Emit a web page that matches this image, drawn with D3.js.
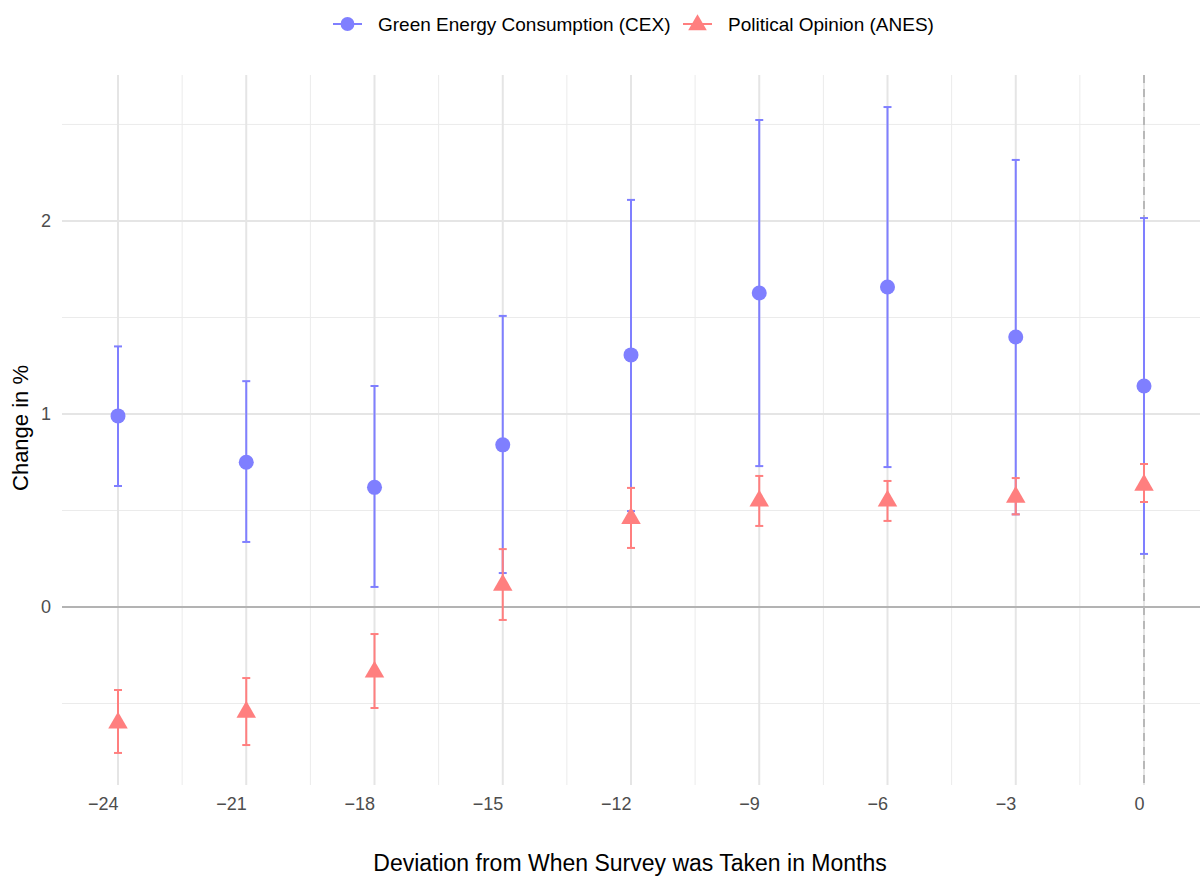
<!DOCTYPE html>
<html>
<head>
<meta charset="utf-8">
<script src="https://cdn.jsdelivr.net/npm/d3@7"></script>
<style>
body { margin:0; background:#fff; }
svg text { font-family: "Liberation Sans", Arial, sans-serif; }
</style>
</head>
<body>
<svg id="chart" width="1201" height="880"></svg>
<script>
const months = [-24, -21, -18, -15, -12, -9, -6, -3, 0];
const xTicks = [-24, -21, -18, -15, -12, -9, -6, -3, 0];
const yTicks = [0, 1, 2];

const cexEst = [0.99, 0.75, 0.62, 0.84, 1.306, 1.627, 1.658, 1.399, 1.145];
const cexLow = [0.627, 0.337, 0.104, 0.176, 0.497, 0.73, 0.725, 0.48, 0.275];
const cexHigh = [1.35, 1.17, 1.145, 1.508, 2.109, 2.523, 2.59, 2.316, 2.015];

const anesEst = [-0.59, -0.534, -0.326, 0.124, 0.47, 0.56, 0.56, 0.58, 0.642];
const anesLow = [-0.756, -0.715, -0.523, -0.067, 0.306, 0.42, 0.446, 0.48, 0.544];
const anesHigh = [-0.43, -0.368, -0.14, 0.30, 0.617, 0.679, 0.653, 0.668, 0.741];

const seriesNames = ["Green Energy Consumption (CEX)", "Political Opinion (ANES)"];
const colors = ["#7f7fff", "#ff7f7f"];

const svg = d3.select("#chart");
const pL = 62, pR = 1200, pT = 75, pB = 785;

const x = d3.scaleLinear().domain([-25.31, 1.31]).range([pL, pR]);
const y = d3.scaleLinear().domain([-0.922, 2.756]).range([pB, pT]);

// grid
const g = svg.append("g");
const minorX = d3.range(-25.5, 1.6, 1.5).filter(v => !xTicks.includes(v) && v > -25.31 && v < 1.31);
const minorY = [-0.5, 0.5, 1.5, 2.5];
g.selectAll(".mx").data(minorX).enter().append("line")
  .attr("x1", d => x(d)).attr("x2", d => x(d)).attr("y1", pT).attr("y2", pB)
  .attr("stroke", "#ebebeb").attr("stroke-width", 1);
g.selectAll(".my").data(minorY).enter().append("line")
  .attr("y1", d => y(d)).attr("y2", d => y(d)).attr("x1", pL).attr("x2", pR)
  .attr("stroke", "#ebebeb").attr("stroke-width", 1);
g.selectAll(".Mx").data(xTicks).enter().append("line")
  .attr("x1", d => x(d)).attr("x2", d => x(d)).attr("y1", pT).attr("y2", pB)
  .attr("stroke", "#e5e5e5").attr("stroke-width", 2);
g.selectAll(".My").data(yTicks).enter().append("line")
  .attr("y1", d => y(d)).attr("y2", d => y(d)).attr("x1", pL).attr("x2", pR)
  .attr("stroke", "#e5e5e5").attr("stroke-width", 2);

// reference lines
svg.append("line").attr("x1", pL).attr("x2", pR).attr("y1", y(0)).attr("y2", y(0))
  .attr("stroke", "#b3b3b3").attr("stroke-width", 2);
svg.append("line").attr("x1", x(0)).attr("x2", x(0)).attr("y1", pT).attr("y2", pB)
  .attr("stroke", "#b8b8b8").attr("stroke-width", 2).attr("stroke-dasharray", "8,6");

// axes
const xAxis = d3.axisBottom(x).tickValues(xTicks).tickSize(0).tickPadding(0)
  .tickFormat(d => d < 0 ? "\u2212" + Math.abs(d) : String(d));
const xa = svg.append("g").attr("transform", `translate(0,810)`).call(xAxis);
xa.select(".domain").remove();
xa.selectAll("text").attr("fill", "#4d4d4d").style("font-size", "18px")
  .attr("y", 0).attr("dy", 0).attr("text-anchor", "end").attr("x", 0);

const yAxis = d3.axisLeft(y).tickValues(yTicks).tickSize(0).tickPadding(0).tickFormat(d3.format("d"));
const ya = svg.append("g").attr("transform", `translate(51,0)`).call(yAxis);
ya.select(".domain").remove();
ya.selectAll("text").attr("fill", "#4d4d4d").style("font-size", "18px");

// axis titles
svg.append("text").attr("x", 630).attr("y", 871).attr("text-anchor", "middle")
  .style("font-size", "23px").attr("fill", "#000").text("Deviation from When Survey was Taken in Months");
svg.append("text").attr("transform", `translate(28,428) rotate(-90)`).attr("text-anchor", "middle")
  .style("font-size", "22px").attr("fill", "#000").text("Change in %");

// data series
const cap = 4;
function drawSeries(est, low, high, color, shape) {
  const s = svg.append("g");
  months.forEach((m, i) => {
    const cx = x(m);
    s.append("line").attr("x1", cx).attr("x2", cx).attr("y1", y(low[i])).attr("y2", y(high[i]))
      .attr("stroke", color).attr("stroke-width", 2);
    [low[i], high[i]].forEach(v => {
      s.append("line").attr("x1", cx - cap).attr("x2", cx + cap).attr("y1", y(v)).attr("y2", y(v))
        .attr("stroke", color).attr("stroke-width", 2);
    });
  });
  const sym = shape === "circle" ? d3.symbol().type(d3.symbolCircle).size(177)
                                 : d3.symbol().type(d3.symbolTriangle).size(165);
  s.selectAll("path.pt").data(months).enter().append("path")
    .attr("d", sym)
    .attr("transform", (d, i) => `translate(${x(d)},${y(est[i]) + (shape === "circle" ? 0 : 2)})`)
    .attr("fill", color);
}
drawSeries(cexEst, cexLow, cexHigh, colors[0], "circle");
drawSeries(anesEst, anesLow, anesHigh, colors[1], "triangle");

// legend
const leg = svg.append("g");
const legItems = [
  {name: seriesNames[0], color: colors[0], shape: d3.symbolCircle, x: 333, size: 150},
  {name: seriesNames[1], color: colors[1], shape: d3.symbolTriangle, x: 683, size: 150}
];
legItems.forEach(it => {
  leg.append("line").attr("x1", it.x).attr("x2", it.x + 29).attr("y1", 24).attr("y2", 24)
    .attr("stroke", it.color).attr("stroke-width", 2);
  leg.append("path").attr("d", d3.symbol().type(it.shape).size(it.size)())
    .attr("transform", `translate(${it.x + 14.5},${24 + (it.shape === d3.symbolTriangle ? 1 : 0)})`)
    .attr("fill", it.color);
  leg.append("text").attr("x", it.x + 45).attr("y", 24).attr("dy", "0.35em")
    .style("font-size", "19px").attr("fill", "#000").text(it.name);
});
</script>
</body>
</html>
